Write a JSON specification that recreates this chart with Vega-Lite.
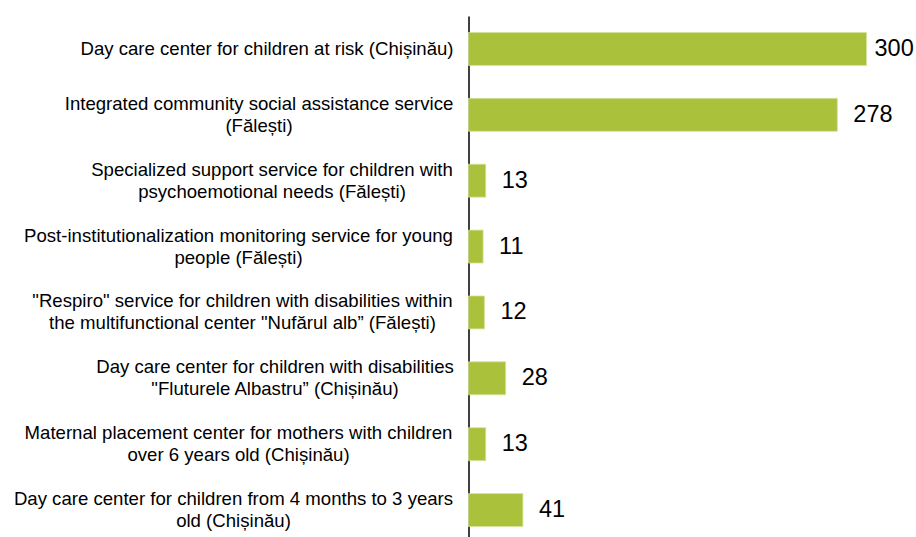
{
  "$schema": "https://vega.github.io/schema/vega-lite/v6.json",
  "width": 398,
  "height": 527,
  "padding": {"left": 12.5, "top": 16, "right": 0, "bottom": 0},
  "background": "white",
  "config": {"view": {"stroke": null}, "font": "Liberation Sans"},
  "data": {
    "values": [
      {"service": "Day care center for children at risk (Chișinău)", "n": 300},
      {"service": "Integrated community social assistance service\n(Fălești)", "n": 278},
      {"service": "Specialized support service for children with\npsychoemotional needs (Fălești)", "n": 13},
      {"service": "Post-institutionalization monitoring service for young\npeople (Fălești)", "n": 11},
      {"service": "\"Respiro\" service for children with disabilities within\nthe multifunctional center \"Nufărul alb” (Fălești)", "n": 12},
      {"service": "Day care center for children with disabilities\n\"Fluturele Albastru” (Chișinău)", "n": 28},
      {"service": "Maternal placement center for mothers with children\nover 6 years old  (Chișinău)", "n": 13},
      {"service": "Day care center for children from 4 months to 3 years\nold  (Chișinău)", "n": 41}
    ]
  },
  "encoding": {
    "y": {
      "field": "service",
      "type": "nominal",
      "sort": null,
      "scale": {"paddingInner": 0.5, "paddingOuter": 0.25},
      "axis": {
        "title": null,
        "ticks": false,
        "tickSize": 0,
        "domainColor": "#000000",
        "domainWidth": 1.5,
        "labelFont": "Liberation Sans",
        "labelFontSize": 18.6,
        "labelColor": "#000000",
        "labelLineHeight": 22,
        "labelLimit": 0,
        "labelAlign": "center",
        "labelBaseline": "middle",
        "labelExpr": "split(datum.label, '\\n')",
        "labelOffset": {"expr": "indexof(datum.value, '\\n') >= 0 ? -11 : 0"},
        "labelPadding": {"expr": "indexof(datum.value, 'at risk') >= 0 ? 202 : indexof(datum.value, 'Integrated') >= 0 ? 210 : indexof(datum.value, 'Specialized') >= 0 ? 197 : indexof(datum.value, 'Post-') >= 0 ? 230.5 : indexof(datum.value, 'Respiro') >= 0 ? 226.5 : indexof(datum.value, 'Fluturele') >= 0 ? 194 : indexof(datum.value, 'Maternal') >= 0 ? 230.5 : 235.5"}
      }
    },
    "x": {
      "field": "n",
      "type": "quantitative",
      "scale": {"domain": [0, 300], "nice": false},
      "axis": null
    }
  },
  "layer": [
    {"mark": {"type": "bar", "color": "#AAC13C", "stroke": "#D4E39A", "strokeWidth": 0.8}},
    {
      "mark": {"type": "text", "align": "left", "baseline": "middle", "dx": {"expr": "datum.n >= 300 ? 8 : 16"}, "fontSize": 23.5, "font": "Liberation Sans", "color": "#000000"},
      "encoding": {"text": {"field": "n", "type": "quantitative"}}
    }
  ]
}
